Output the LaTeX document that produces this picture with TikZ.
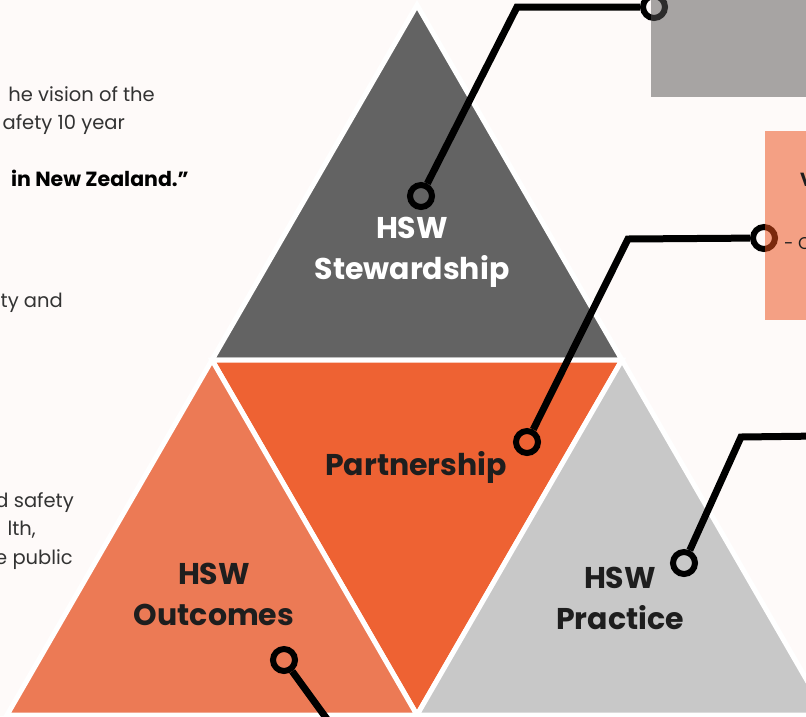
\documentclass[tikz,border=0pt]{standalone}
\usepackage{fontspec}
\setmainfont{Poppins}
\definecolor{bgpaper}{HTML}{FEFAF9}
\definecolor{stewgray}{HTML}{636363}
\definecolor{partorange}{HTML}{EE6233}
\definecolor{outsalmon}{HTML}{EC7A55}
\definecolor{praclight}{HTML}{C8C8C8}
\definecolor{boxgray}{HTML}{585656}
\definecolor{boxsalmon}{HTML}{EB4F1A}
\definecolor{textgray}{HTML}{333333}
\definecolor{labelblack}{HTML}{1E1E1E}

\begin{document}
\begin{tikzpicture}[x=1pt,y=-1pt,
  tri/.style={draw=white,line width=5pt},
  lbl/.style={align=center,text=labelblack,font=\fontsize{30}{41}\selectfont\bfseries},
  side/.style={anchor=base east,inner sep=0pt,text=textgray,font=\fontsize{19.5}{28}\selectfont},
  ring/.style={circle,draw=black,line width=6pt,minimum size=22pt,inner sep=0pt},
  link/.style={black,line width=7pt}]
\useasboundingbox (0,0) rectangle (806,716);
\clip (0,0) rectangle (806,716);
\fill[bgpaper] (0,0) rectangle (806,716);

%four triangles
\filldraw[tri,fill=stewgray] (417,5) -- (622,360) -- (212,360) -- cycle;
\filldraw[tri,fill=partorange] (212,360) -- (622,360) -- (417,715) -- cycle;
\filldraw[tri,fill=outsalmon] (212,360) -- (417,715) -- (7,715) -- cycle;
\filldraw[tri,fill=praclight] (622,360) -- (827,715) -- (417,715) -- cycle;

%labels
\node[lbl,text=white] (stew) at (412,252) {HSW\\Stewardship};
\node[lbl] (part) at (416,467) {Partnership};
\node[lbl] (outc) at (214,594) {HSW\\Outcomes};
\node[lbl] (prac) at (620,598) {HSW\\Practice};

%left text, cut at the edge
\node[side] (vis1) at (155,101) {he vision of the};
\node[side] (vis2) at (125,129) {afety 10 year};
\node[side,font=\fontsize{20.5}{28}\selectfont\bfseries,text=black] (vis3) at (189,186) {in New Zealand.\symbol{34}};
\node[side] (par1) at (63,307) {ty and};
\node[side] (hs1) at (74,507) {d safety};
\node[side] (hs2) at (36,535) {lth,};
\node[side] (hs3) at (73,564) {e public};

%connectors
\node[ring] (ringStew) at (421,196) {};
\coordinate (kneeStew) at (517,7);
\node[ring] (ringTop) at (654,7) {};
\draw[link] (ringStew) -- (kneeStew) -- (ringTop);

\node[ring] (ringPart) at (527,442) {};
\coordinate (kneePart) at (628,239);
\node[ring] (ringMid) at (764,238) {};
\draw[link] (ringPart) -- (kneePart) -- (ringMid);

\node[ring] (ringPrac) at (684,563) {};
\coordinate (kneePrac) at (741,437);
\coordinate (endPrac) at (820,436);
\draw[link] (ringPrac) -- (kneePrac) -- (endPrac);

\node[ring] (ringOutc) at (284,660) {};
\coordinate (endOutc) at (340,737);
\draw[link] (ringOutc) -- (endOutc);

%boxes on the right
\fill[boxgray,fill opacity=0.52] (651,0) rectangle (810,97);
\fill[boxsalmon,fill opacity=0.52] (765,131) rectangle (810,320);
\node[anchor=base west,inner sep=0pt,text=labelblack,font=\fontsize{17}{20}\selectfont] (boxTxt) at (784,249) {- C};
\node[anchor=base west,inner sep=0pt,text=labelblack,font=\fontsize{19}{20}\selectfont\bfseries] (boxHead) at (800,186) {V};
\end{tikzpicture}
\end{document}
